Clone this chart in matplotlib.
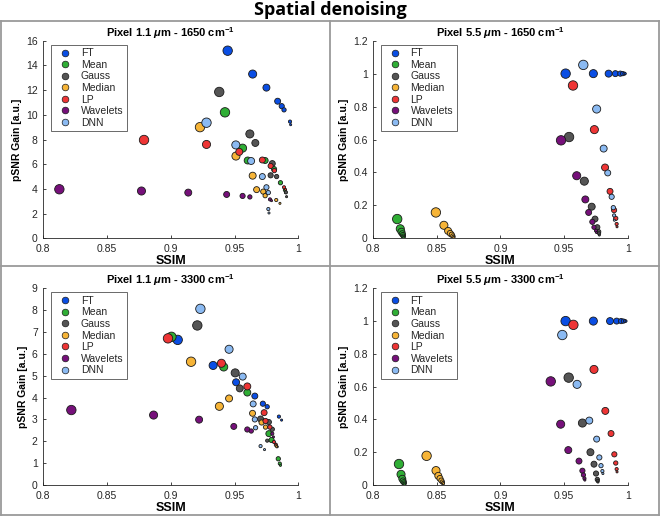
import numpy as np
import matplotlib
matplotlib.use('Agg')
from matplotlib import pyplot as plt
from matplotlib.lines import Line2D
matplotlib.rcParams['font.family'] = ['Liberation Sans', 'DejaVu Sans']
matplotlib.rcParams['mathtext.fontset'] = 'custom'
matplotlib.rcParams['mathtext.rm'] = 'Liberation Sans:bold'
matplotlib.rcParams['mathtext.it'] = 'Liberation Sans:italic:bold'

methods = ['FT', 'Mean', 'Gauss', 'Median', 'LP', 'Wavelets', 'DNN']
colors = ['#0a4ee4', '#2fae35', '#555555', '#f6b437', '#ee3535', '#76107a', '#8bbaf2']

# marker diameters (px) for the 8 parameter settings, largest first
diam_px = [9.4, 8.1, 7.0, 6.0, 5.2, 4.3, 3.2, 2.1]

# ---- Pixel 1.1 um - 1650 cm-1
ssim_11_1650 = {
    'FT':       [0.9446, 0.9642, 0.975, 0.9838, 0.987, 0.9888, 0.9935, 0.994],
    'Mean':     [0.9425, 0.9563, 0.9603, 0.974, 0.981, 0.986, 0.9895, 0.990],
    'Gauss':    [0.938, 0.962, 0.9663, 0.9796, 0.9783, 0.983, 0.9903, 0.9908],
    'Median':   [0.9229, 0.9511, 0.9642, 0.9673, 0.9725, 0.974, 0.9827, 0.9856],
    'LP':       [0.879, 0.928, 0.9537, 0.9718, 0.9783, 0.9812, 0.9888, 0.990],
    'Wavelets': [0.8126, 0.877, 0.9137, 0.9438, 0.9563, 0.962, 0.9778, 0.979],
    'DNN':      [0.928, 0.951, 0.963, 0.9718, 0.975, 0.9765, 0.9765, 0.977],
}
psnr_11_1650 = {
    'FT':       [15.19, 13.3, 12.2, 11.1, 10.7, 10.4, 9.45, 9.2],
    'Mean':     [10.2, 7.3, 6.3, 6.3, 5.6, 4.5, 3.9, 3.7],
    'Gauss':    [11.85, 8.45, 7.72, 6.05, 5.1, 5.0, 3.72, 3.37],
    'Median':   [9.0, 6.66, 5.07, 3.94, 3.78, 3.45, 3.1, 2.83],
    'LP':       [7.96, 7.6, 7.0, 6.34, 5.86, 5.48, 4.13, 3.95],
    'Wavelets': [3.97, 3.83, 3.7, 3.55, 3.43, 3.35, 3.15, 3.05],
    'DNN':      [9.36, 7.56, 6.26, 5.0, 4.13, 3.7, 2.37, 2.05],
}

# ---- Pixel 5.5 um - 1650 cm-1
ssim_55_1650 = {
    'FT':       [0.9512, 0.973, 0.985, 0.9903, 0.9942, 0.996, 0.9974, 0.998],
    'Mean':     [0.8188, 0.8212, 0.8221, 0.8228, 0.8233, 0.8236, 0.8238, 0.824],
    'Gauss':    [0.9539, 0.9659, 0.9717, 0.9743, 0.9761, 0.9772, 0.9775, 0.9777],
    'Median':   [0.8492, 0.8555, 0.8588, 0.8605, 0.8617, 0.8625, 0.863, 0.8633],
    'LP':       [0.957, 0.9738, 0.9822, 0.9861, 0.9893, 0.9906, 0.9913, 0.9916],
    'Wavelets': [0.9476, 0.9599, 0.9667, 0.9693, 0.9722, 0.9735, 0.9751, 0.9755],
    'DNN':      [0.9651, 0.9756, 0.9811, 0.9843, 0.9874, 0.9887, 0.9893, 0.9895],
}
psnr_55_1650 = {
    'FT':       [1.0, 1.0, 1.0, 1.0, 1.0, 1.0, 1.0, 1.0],
    'Mean':     [0.117, 0.058, 0.04, 0.028, 0.02, 0.013, 0.009, 0.006],
    'Gauss':    [0.615, 0.347, 0.192, 0.117, 0.067, 0.04, 0.03, 0.02],
    'Median':   [0.157, 0.079, 0.045, 0.03, 0.022, 0.014, 0.009, 0.006],
    'LP':       [0.928, 0.66, 0.43, 0.285, 0.171, 0.121, 0.087, 0.07],
    'Wavelets': [0.595, 0.38, 0.236, 0.157, 0.1, 0.067, 0.046, 0.035],
    'DNN':      [1.053, 0.785, 0.545, 0.397, 0.252, 0.186, 0.139, 0.11],
}

# ---- Pixel 1.1 um - 3300 cm-1
ssim_11_3300 = {
    'FT':       [0.9054, 0.9332, 0.9512, 0.9659, 0.9722, 0.9756, 0.9848, 0.9869],
    'Mean':     [0.9005, 0.9415, 0.960, 0.9769, 0.979, 0.9843, 0.9855, 0.986],
    'Gauss':    [0.9208, 0.9505, 0.9541, 0.9704, 0.9769, 0.9796, 0.9756, 0.9835],
    'Median':   [0.9159, 0.9381, 0.9457, 0.9641, 0.9712, 0.9743, 0.9824, 0.983],
    'LP':       [0.8978, 0.9397, 0.960, 0.9732, 0.9743, 0.9777, 0.9809, 0.9825],
    'Wavelets': [0.822, 0.8865, 0.9222, 0.9494, 0.960, 0.9631, 0.9796, 0.9805],
    'DNN':      [0.9232, 0.9457, 0.9564, 0.9646, 0.9659, 0.9665, 0.9704, 0.9735],
}
psnr_11_3300 = {
    'FT':       [6.64, 5.47, 4.7, 4.07, 3.72, 3.58, 3.13, 2.97],
    'Mean':     [6.78, 5.4, 4.23, 2.35, 2.06, 1.2, 0.98, 0.9],
    'Gauss':    [7.3, 5.13, 4.42, 3.02, 2.88, 2.55, 2.03, 1.75],
    'Median':   [5.64, 3.6, 3.96, 3.28, 2.86, 2.65, 1.83, 1.75],
    'LP':       [6.71, 5.57, 4.51, 3.31, 2.93, 2.65, 1.97, 1.87],
    'Wavelets': [3.43, 3.2, 2.99, 2.68, 2.54, 2.47, 2.35, 2.2],
    'DNN':      [8.06, 6.21, 4.96, 3.71, 3.0, 2.62, 1.78, 1.62],
}

# ---- Pixel 5.5 um - 3300 cm-1
ssim_55_3300 = {
    'FT':       [0.9512, 0.973, 0.9861, 0.9913, 0.9948, 0.9966, 0.9979, 0.9987],
    'Mean':     [0.8202, 0.8218, 0.8228, 0.8234, 0.8239, 0.8243, 0.8245, 0.8247],
    'Gauss':    [0.9536, 0.9644, 0.9707, 0.9735, 0.9751, 0.9761, 0.9764, 0.9766],
    'Median':   [0.8419, 0.8493, 0.8511, 0.8524, 0.8535, 0.8543, 0.8548, 0.8551],
    'LP':       [0.9573, 0.9735, 0.9824, 0.9869, 0.9895, 0.9906, 0.9913, 0.9916],
    'Wavelets': [0.9395, 0.9473, 0.9533, 0.9617, 0.9644, 0.9652, 0.966, 0.9663],
    'DNN':      [0.9486, 0.9602, 0.9698, 0.9756, 0.9777, 0.979, 0.9801, 0.9805],
}
psnr_55_3300 = {
    'FT':       [1.0, 1.0, 1.0, 1.0, 1.0, 1.0, 1.0, 1.0],
    'Mean':     [0.128, 0.065, 0.038, 0.025, 0.017, 0.012, 0.008, 0.005],
    'Gauss':    [0.655, 0.378, 0.2, 0.127, 0.07, 0.034, 0.025, 0.018],
    'Median':   [0.178, 0.088, 0.056, 0.04, 0.027, 0.018, 0.012, 0.008],
    'LP':       [0.977, 0.705, 0.452, 0.314, 0.187, 0.134, 0.097, 0.08],
    'Wavelets': [0.632, 0.371, 0.213, 0.146, 0.087, 0.061, 0.04, 0.03],
    'DNN':      [0.915, 0.614, 0.393, 0.28, 0.168, 0.118, 0.085, 0.07],
}

panels = [
    ('Pixel 1.1 $\\mu$m - 1650 cm$^{-1}$', ssim_11_1650, psnr_11_1650, 16, 2),
    ('Pixel 5.5 $\\mu$m - 1650 cm$^{-1}$', ssim_55_1650, psnr_55_1650, 1.2, 0.2),
    ('Pixel 1.1 $\\mu$m - 3300 cm$^{-1}$', ssim_11_3300, psnr_11_3300, 9, 1),
    ('Pixel 5.5 $\\mu$m - 3300 cm$^{-1}$', ssim_55_3300, psnr_55_3300, 1.2, 0.2),
]

W, H = 660, 516
fig = plt.figure(figsize=(W/100, H/100), dpi=100)

# axes boxes in pixels: left, top, right, bottom
boxes = [(43.3, 40.7, 298.3, 238.3), (373.3, 40.7, 627.7, 238.3),
         (43.3, 288.3, 298.3, 485.0), (373.3, 288.3, 627.7, 485.0)]

sizes = [(d*0.72)**2 for d in diam_px]
axcol = '#262626'

for (title, sx, sy, ymax, ystep), (l, t, r, b) in zip(panels, boxes):
    ax = fig.add_axes([l/W, (H-b)/H, (r-l)/W, (b-t)/H])
    for m, c in zip(methods, colors):
        ax.scatter(sx[m], sy[m], s=sizes, c=c, edgecolors='#1a1a1a', linewidths=0.6, zorder=3)
    ax.set_xlim(0.8, 1.0)
    ax.set_ylim(0, ymax)
    ax.set_xticks([0.8, 0.85, 0.9, 0.95, 1.0])
    ax.set_xticklabels(['0.8', '0.85', '0.9', '0.95', '1'])
    yt = np.arange(0, ymax + ystep/2, ystep)
    ax.set_yticks(yt)
    ax.set_yticklabels(['%g' % round(v, 2) for v in yt])
    ax.tick_params(direction='in', length=2.5, width=0.6, labelsize=7.5, colors=axcol)
    ax.tick_params(axis='x', pad=4)
    ax.tick_params(axis='y', pad=4)
    for sp in ['top', 'right']:
        ax.spines[sp].set_visible(False)
    for sp in ['left', 'bottom']:
        ax.spines[sp].set_color(axcol)
        ax.spines[sp].set_linewidth(0.6)
    ax.set_title(title, fontsize=8, fontweight='bold', pad=2)
    ax.set_xlabel('SSIM', fontsize=9, fontweight='bold', labelpad=1)
    ax.set_ylabel('pSNR Gain [a.u.]', fontsize=7.5, fontweight='bold', labelpad=3)
    handles = [Line2D([], [], ls='none', marker='o', markersize=4.8, markerfacecolor=c,
                      markeredgecolor='#1a1a1a', markeredgewidth=0.5) for c in colors]
    leg = ax.legend(handles, methods, loc='upper left', bbox_to_anchor=(0.03, 0.98),
                    borderaxespad=0, fontsize=7.5, frameon=True, fancybox=False,
                    handletextpad=0.5, labelspacing=0.15, borderpad=0.35, handlelength=2.0)
    leg.get_frame().set_edgecolor('#262626')
    leg.get_frame().set_linewidth(0.6)
    for txt in leg.get_texts():
        txt.set_color(axcol)

# panel frames
fc = '#9a9a9a'
def fline(x0, y0, x1, y1):
    fig.add_artist(Line2D([x0/W, x1/W], [1-y0/H, 1-y1/H], color=fc, lw=1.3))
fline(1, 21, 659, 21)
fline(1, 515, 659, 515)
fline(1, 21, 1, 515)
fline(659, 21, 659, 515)
fline(330, 21, 330, 515)
fline(1, 266, 659, 266)

fig.text(0.5, 1-10/H, 'Spatial denoising', ha='center', va='center',
         fontsize=13, fontweight='bold', family=['Open Sans', 'DejaVu Sans'])

fig.savefig('out.png', dpi=100)
